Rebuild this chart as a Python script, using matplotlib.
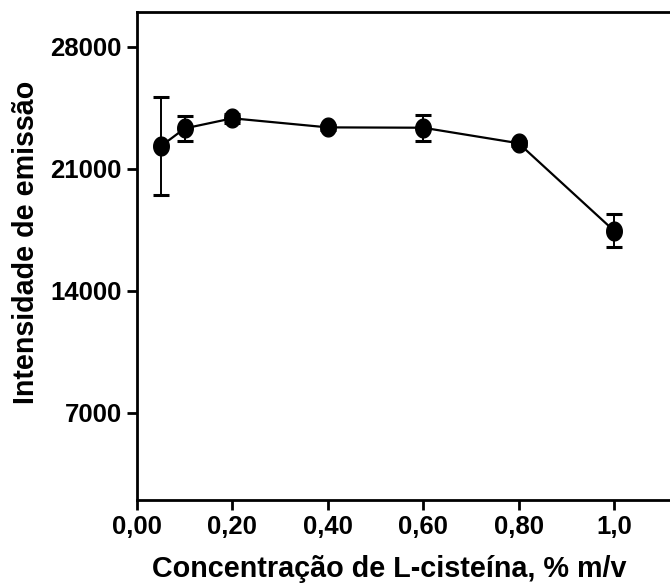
import matplotlib
matplotlib.use("Agg")
import matplotlib.pyplot as plt
from matplotlib.path import Path
import numpy as np

conc = [0.05, 0.10, 0.20, 0.40, 0.60, 0.80, 1.00]
intensity = [22300, 23320, 23900, 23380, 23360, 22470, 17450]
errors = [2800, 720, 250, 150, 750, 150, 960]
xticks = [0.0, 0.2, 0.4, 0.6, 0.8, 1.0]
xticklabels = ["0,00", "0,20", "0,40", "0,60", "0,80", "1,0"]
yticks = [7000, 14000, 21000, 28000]
yticklabels = ["7000", "14000", "21000", "28000"]

plt.rcParams['font.family'] = ['Liberation Sans', 'DejaVu Sans']
plt.rcParams['font.weight'] = 'bold'

t = np.linspace(0, 2 * np.pi, 64)
ellipse = Path(np.column_stack([0.83 * np.cos(t), np.sin(t)]), closed=True)

fig = plt.figure(figsize=(6.7, 5.83), dpi=100)
x0 = 137 / 670
ax = fig.add_axes([x0, 83 / 583, 1.15 * 477 / 670, 488 / 583])

ax.plot(conc, intensity, color='black', lw=1.6, zorder=2)
ax.errorbar(conc, intensity, yerr=errors, fmt='none', ecolor='black',
            elinewidth=1.4, capsize=6, capthick=2.2, zorder=2)
ax.plot(conc, intensity, linestyle='none', marker=ellipse, color='black',
        markersize=13.5, zorder=3)

ax.set_xlim(0, 1.15)
ax.set_ylim(2000, 30000)
ax.set_xticks(xticks)
ax.set_xticklabels(xticklabels)
ax.set_yticks(yticks)
ax.set_yticklabels(yticklabels)

for s in ['left', 'bottom', 'top', 'right']:
    ax.spines[s].set_linewidth(2)
ax.tick_params(axis='both', direction='out', length=7, width=2,
               labelsize=18.5, pad=4)

ax.set_xlabel("Concentração de L-cisteína, % m/v", fontsize=20.7,
              fontweight='bold')
ax.set_ylabel("Intensidade de emissão", fontsize=20.6, fontweight='bold')
ax.xaxis.set_label_coords(0.459, -0.113)
ax.yaxis.set_label_coords(-0.177, 0.527)

fig.savefig("out.png", dpi=100)
